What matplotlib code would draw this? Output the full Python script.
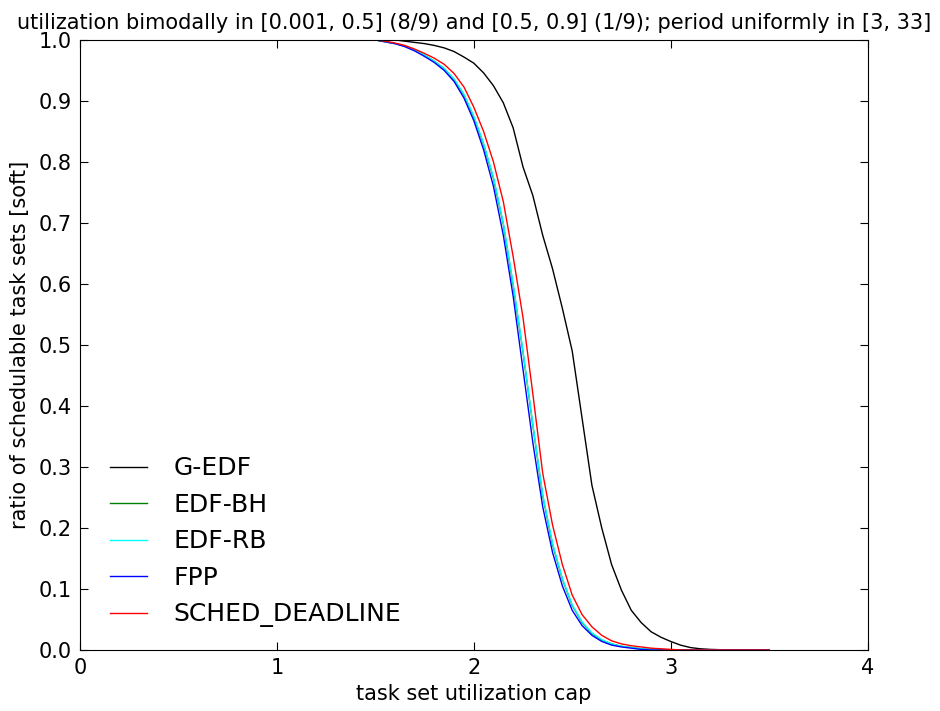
import numpy as np
import matplotlib
matplotlib.use("Agg")
import matplotlib.pyplot as plt

# utilisation cap (x) commune aux cinq courbes
util_cap = [0.0, 1.5, 1.55, 1.6, 1.65, 1.7, 1.75, 1.8, 1.85, 1.9, 1.95,
            2.0, 2.05, 2.1, 2.15, 2.2, 2.25, 2.3, 2.35, 2.4, 2.45,
            2.5, 2.55, 2.6, 2.65, 2.7, 2.75, 2.8, 2.85, 2.9, 2.95,
            3.0, 3.05, 3.1, 3.15, 3.2, 3.3, 3.5]

g_edf = [1.0, 1.0, 1.0, 1.0, 0.998, 0.996, 0.994, 0.991, 0.987, 0.981, 0.972,
         0.962, 0.946, 0.925, 0.897, 0.856, 0.792, 0.745, 0.68, 0.625, 0.56,
         0.49, 0.38, 0.27, 0.20, 0.14, 0.098, 0.065, 0.045, 0.030, 0.021,
         0.014, 0.008, 0.004, 0.002, 0.001, 0.0, 0.0]

edf_bh = [1.0, 1.0, 0.997, 0.994, 0.990, 0.983, 0.975, 0.965, 0.953, 0.935, 0.910,
          0.874, 0.829, 0.773, 0.698, 0.598, 0.488, 0.368, 0.253, 0.173, 0.116,
          0.073, 0.045, 0.027, 0.016, 0.010, 0.006, 0.004, 0.002, 0.001, 0.0,
          0.0, 0.0, 0.0, 0.0, 0.0, 0.0, 0.0]

edf_rb = [1.0, 1.0, 0.997, 0.994, 0.990, 0.983, 0.975, 0.965, 0.953, 0.936, 0.911,
          0.875, 0.830, 0.775, 0.700, 0.600, 0.490, 0.370, 0.255, 0.175, 0.117,
          0.074, 0.046, 0.028, 0.017, 0.010, 0.006, 0.004, 0.002, 0.001, 0.0,
          0.0, 0.0, 0.0, 0.0, 0.0, 0.0, 0.0]

fpp = [1.0, 1.0, 0.997, 0.994, 0.989, 0.982, 0.973, 0.963, 0.950, 0.932, 0.905,
       0.868, 0.820, 0.760, 0.680, 0.580, 0.460, 0.340, 0.235, 0.160, 0.105,
       0.065, 0.040, 0.024, 0.014, 0.008, 0.005, 0.003, 0.001, 0.0, 0.0,
       0.0, 0.0, 0.0, 0.0, 0.0, 0.0, 0.0]

sched_deadline = [1.0, 1.0, 0.998, 0.995, 0.991, 0.985, 0.978, 0.970, 0.960, 0.945, 0.923,
                  0.890, 0.850, 0.800, 0.735, 0.645, 0.545, 0.420, 0.290, 0.205, 0.140,
                  0.090, 0.058, 0.038, 0.024, 0.015, 0.010, 0.007, 0.005, 0.003, 0.002,
                  0.001, 0.0, 0.0, 0.0, 0.0, 0.0, 0.0]

series = [
    ("G-EDF", g_edf, "black"),
    ("EDF-BH", edf_bh, "green"),
    ("EDF-RB", edf_rb, "cyan"),
    ("FPP", fpp, "blue"),
    ("SCHED_DEADLINE", sched_deadline, "red"),
]

x_ticks = [0, 1, 2, 3, 4]
y_ticks = [0.0, 0.1, 0.2, 0.3, 0.4, 0.5, 0.6, 0.7, 0.8, 0.9, 1.0]

fig = plt.figure(figsize=(9.4, 7.11), dpi=100)
ax = fig.add_axes([0.085, 0.0858, 0.838, 0.858])

for label, values, color in series:
    ax.plot(util_cap, values, "-", color=color, linewidth=1.0, label=label)

ax.set_xlim(0, 4)
ax.set_ylim(0, 1)
ax.set_xticks(x_ticks)
ax.set_yticks(y_ticks)
ax.set_yticklabels([f"{v:.1f}" for v in y_ticks])
ax.tick_params(direction="in", top=True, right=True, length=6, labelsize=15, pad=6)
ax.set_xlabel("task set utilization cap", fontsize=15, labelpad=4)
ax.set_ylabel("ratio of schedulable task sets [soft]", fontsize=15, labelpad=6)
ax.set_title("utilization bimodally in [0.001, 0.5] (8/9) and [0.5, 0.9] (1/9); "
             "period uniformly in [3, 33]", fontsize=15, pad=8)

ax.legend(loc="lower left", bbox_to_anchor=(0.01, 0.0), frameon=False, fontsize=18,
          handlelength=1.48, handletextpad=1.04, labelspacing=0.5, borderaxespad=0.5)

fig.savefig("out.png", dpi=100)
